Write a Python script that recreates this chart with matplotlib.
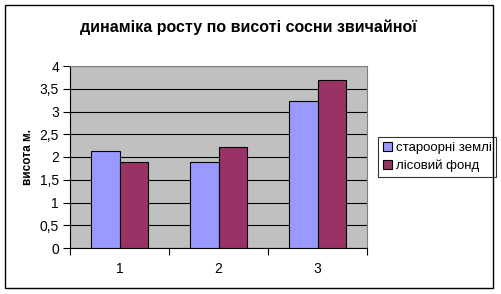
import matplotlib.pyplot as plt
from matplotlib.patches import Rectangle
import numpy as np

plt.rcParams['font.family'] = ['Liberation Sans', 'DejaVu Sans']

categories = ['1', '2', '3']
series_names = ['староорні землі', 'лісовий фонд']
staroorni = [2.13, 1.9, 3.22]
lisovyi = [1.9, 2.22, 3.7]
yticks = [0, 0.5, 1, 1.5, 2, 2.5, 3, 3.5, 4]

W, H = 501, 294
fig = plt.figure(figsize=(W / 100, H / 100), dpi=100)
fig.patch.set_facecolor('white')

# plot area in pixels
px_l, px_r, px_t, px_b = 70, 367, 66, 248
ax = fig.add_axes([px_l / W, 1 - px_b / H, (px_r - px_l) / W, (px_b - px_t) / H])
ax.set_facecolor('#C0C0C0')

x = np.arange(1, len(categories) + 1)
bw = 1 / 3.5
ax.bar(x - bw / 2, staroorni, bw, color='#9999FF', edgecolor='black', linewidth=0.8,
       label=series_names[0], zorder=3)
ax.bar(x + bw / 2, lisovyi, bw, color='#993366', edgecolor='black', linewidth=0.8,
       label=series_names[1], zorder=3)

ax.set_xlim(0.5, 3.5)
ax.set_ylim(0, 4)
ax.set_yticks(yticks)
ax.set_yticklabels([('%g' % v).replace('.', ',') for v in yticks], fontsize=10)
ax.yaxis.grid(True, color='black', linewidth=0.8, zorder=1)
ax.set_axisbelow(True)

ax.set_xticks(x)
ax.set_xticklabels(categories, fontsize=10)
ax.set_xticks([0.5, 1.5, 2.5, 3.5], minor=True)
ax.tick_params(axis='x', which='major', length=0, pad=10)
ax.tick_params(axis='x', which='minor', length=5, width=0.8, direction='out')
ax.tick_params(axis='y', length=5, width=0.8, direction='out', pad=3)

for s in ['top', 'right']:
    ax.spines[s].set_color('#808080')
    ax.spines[s].set_linewidth(0.8)
for s in ['left', 'bottom']:
    ax.spines[s].set_color('black')
    ax.spines[s].set_linewidth(0.8)

fig.text(248 / W, 1 - 27 / H, 'динаміка росту по висоті сосни звичайної',
         ha='center', va='center', fontsize=11.5, fontweight='bold')
fig.text(28 / W, 1 - 157 / H, 'висота м.', rotation=90, ha='center', va='center',
         fontsize=8.5, fontweight='bold')

leg = ax.legend(loc='center left', bbox_to_anchor=(378 / W, 1 - 157 / H),
                bbox_transform=fig.transFigure, fontsize=9.5, frameon=True,
                fancybox=False, edgecolor='black', handlelength=0.7,
                handleheight=0.7, handletextpad=0.3, borderpad=0.35,
                labelspacing=0.45, borderaxespad=0)
leg.get_frame().set_linewidth(0.8)

fig.patches.append(Rectangle((5 / W, 1 - 288 / H), 488 / W, 283 / H,
                             transform=fig.transFigure, fill=False,
                             edgecolor='black', linewidth=1))

fig.savefig('out.png', dpi=100)
